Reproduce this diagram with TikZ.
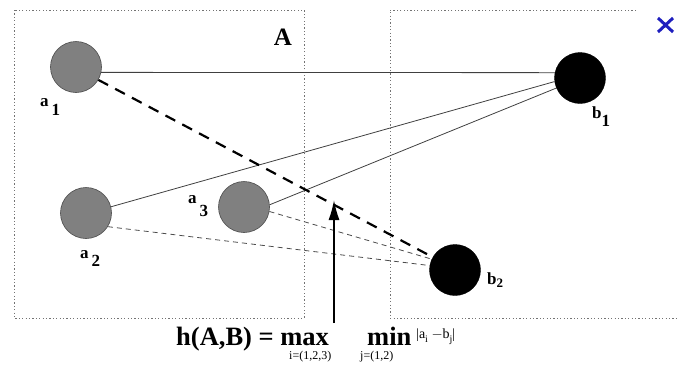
\documentclass[tikz,border=0pt]{standalone}
\usepackage{fontspec}
\setmainfont{Liberation Serif}
\usetikzlibrary{arrows.meta}
\begin{document}
\begin{tikzpicture}[x=1pt,y=-1pt,
  setbox/.style={draw=black!55,line width=1pt,dash pattern=on 1.2pt off 2.2pt},
  aball/.style={circle,draw=black!70,fill=black!50,line width=0.6pt,minimum size=51pt,inner sep=0pt},
  bball/.style={circle,draw=black,fill=black,minimum size=51pt,inner sep=0pt},
  link/.style={draw=black!75,line width=0.8pt},
  near/.style={draw=black!70,line width=0.8pt,dash pattern=on 5pt off 4pt},
  far/.style={draw=black,line width=2.2pt,dash pattern=on 11pt off 8pt},
  lbl/.style={font=\fontsize{17}{17}\selectfont\bfseries,inner sep=0pt,anchor=base west},
  sub/.style={font=\fontsize{12}{12}\selectfont,inner sep=0pt,anchor=base west}]
\useasboundingbox (0,0) rectangle (677,370);
% set boxes
\draw[setbox] (14,10) rectangle (304,318);
\draw[setbox] (636,10) -- (390,10) -- (390,318) -- (677,318);
\node[font=\fontsize{25}{25}\selectfont\bfseries,inner sep=0pt] (A) at (283,37) {A};
% balls
\node[aball] (a1) at (76,67) {};
\node[aball] (a2) at (86,213) {};
\node[aball] (a3) at (244,207) {};
\node[bball] (b1) at (580,78) {};
\node[bball] (b2) at (455,270) {};
% labels
\node[lbl] (la1) at (40,106) {a\raisebox{-0.55em}{\,1}};
\node[lbl] (la2) at (80,258) {a\raisebox{-0.5em}{\,2}};
\node[lbl] (la3) at (188,203) {a\raisebox{-0.8em}{\,3}};
\node[lbl] (lb1) at (592,118) {b\raisebox{-0.5em}{1}};
\node[lbl] (lb2) at (487,284) {b\raisebox{-0.2em}{\fontsize{13}{13}\selectfont 2}};
% connectors
\path[link] (a1.-12) -- (b1.168);
\path[link] (a2.14) -- (b1.188);
\path[link] (a3.5) -- (b1.203);
\path[far] (a1.-30) -- (b2.150);
\path[near] (a2.-32) -- (b2.170);
\path[near] (a3.-10) -- (b2.155);
% arrow
\coordinate (tip) at (334,200);
\coordinate (tail) at (334,323);
\draw[line width=1.6pt,-{Latex[length=20pt,width=11pt]}] (tail) -- (tip);
% formula
\node[font=\fontsize{26.5}{26.5}\selectfont\bfseries,inner sep=0pt,anchor=base west] (hd) at (176,345) {h(A,B) = max};
\node[font=\fontsize{26.5}{26.5}\selectfont\bfseries,inner sep=0pt,anchor=base west] (mn) at (367,345) {min};
\node[sub] (si) at (289,359) {i=(1,2,3)};
\node[sub] (sj) at (360,359) {j=(1,2)};
\node[sub,font=\fontsize{14}{14}\selectfont] (nrm) at (416,338) {|a\raisebox{-0.35em}{\fontsize{10}{10}\selectfont i} $-$b\raisebox{-0.35em}{\fontsize{10}{10}\selectfont j}|};
% close mark
\draw[draw={rgb,255:red,30;green,30;blue,190},line width=3pt] (658,18) -- (673,32) (673,18) -- (658,32);
\end{tikzpicture}
\end{document}
